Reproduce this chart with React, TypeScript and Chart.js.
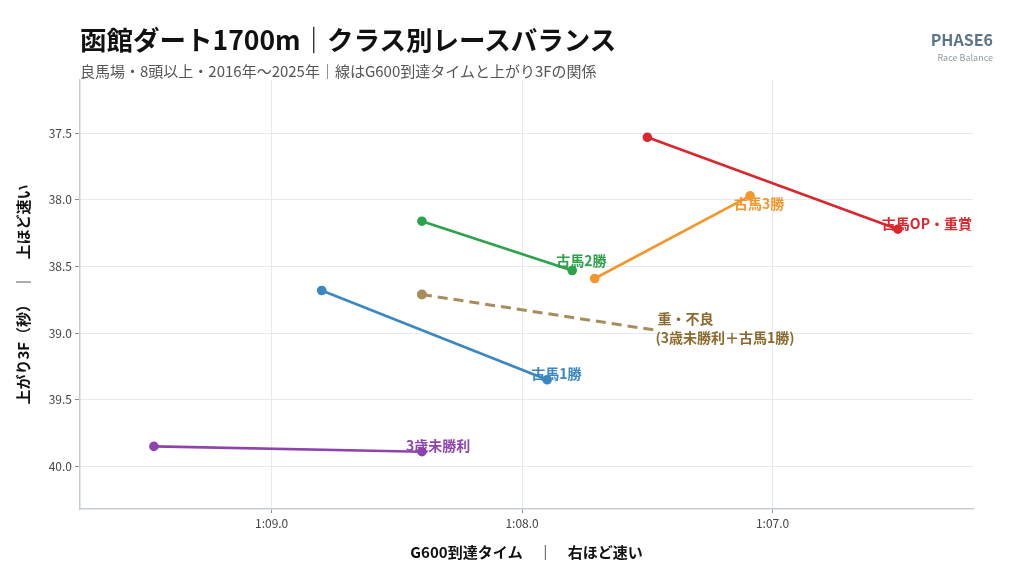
import { Chart, registerables, type ChartConfiguration, type Plugin } from "chart.js";
import { useEffect, useRef } from "react";

Chart.register(...registerables);

const FONT = '"Noto Sans CJK JP", "Noto Sans", sans-serif';

// G600到達タイム（秒）と上がり3F（秒）: [開始点, 終点]
const classNames = ["3歳未勝利", "古馬1勝", "古馬2勝", "古馬3勝", "古馬OP・重賞"];
const classColors = ["#8e44ad", "#3a87c2", "#2ca24a", "#f3962c", "#d9272e"];
const g600Times = [
  [69.47, 68.4],
  [68.8, 67.9],
  [68.4, 67.8],
  [67.71, 67.09],
  [67.5, 66.5],
];
const last3f = [
  [39.85, 39.89],
  [38.68, 39.35],
  [38.16, 38.53],
  [38.59, 37.97],
  [37.53, 38.22],
];
// ラベルの縦ずれ（px）
const labelShift = [-6, -6, -10, 8, -6];

const heavyLabel = ["重・不良", "(3歳未勝利＋古馬1勝)"];
const heavyG600 = [68.4, 67.46];
const heavyLast3f = [38.71, 38.98];

const xTicks = [67, 68, 69];
const yTicks = [37.5, 38, 38.5, 39, 39.5, 40];

function formatTime(v: number) {
  const m = Math.floor(v / 60);
  const s = (v - m * 60).toFixed(1).padStart(4, "0");
  return `${m}:${s}`;
}

const endLabels: Plugin<"line"> = {
  id: "endLabels",
  afterDatasetsDraw(chart) {
    const { ctx } = chart;
    ctx.save();
    ctx.font = `bold 14px ${FONT}`;
    ctx.textBaseline = "middle";
    ctx.textAlign = "left";
    chart.data.datasets.forEach((ds, i) => {
      const meta = chart.getDatasetMeta(i);
      const pt = meta.data[meta.data.length - 1];
      if (!pt) return;
      const label = (ds as any).endLabel as string[];
      ctx.fillStyle = (ds as any).labelColor;
      if (label.length === 1) {
        ctx.fillText(label[0], pt.x - 16, pt.y + (ds as any).labelShift);
      } else {
        ctx.fillText(label[0], pt.x, pt.y - 12);
        ctx.fillText(label[1], pt.x - 2, pt.y + 7);
      }
    });
    ctx.restore();
  },
};

export default function App() {
  const canvasRef = useRef<HTMLCanvasElement>(null);

  useEffect(() => {
    if (!canvasRef.current) return;

    const classSets = classNames.map((name, i) => ({
      label: name,
      endLabel: [name],
      labelShift: labelShift[i],
      labelColor: classColors[i],
      data: g600Times[i].map((x, j) => ({ x, y: last3f[i][j] })),
      borderColor: classColors[i],
      backgroundColor: classColors[i],
      borderWidth: 2.6,
      pointRadius: 3.5,
      pointHoverRadius: 3.5,
    }));

    const heavySet = {
      label: heavyLabel.join(""),
      endLabel: heavyLabel,
      labelColor: "#8b6a2e",
      data: heavyG600.map((x, j) => ({ x, y: heavyLast3f[j] })),
      borderColor: "#a98c5c",
      backgroundColor: "#a98c5c",
      borderWidth: 3,
      borderDash: [10, 6],
      pointRadius: [3.5, 0],
      pointHoverRadius: [3.5, 0],
    };

    const config: ChartConfiguration<"line"> = {
      type: "line",
      data: { datasets: [...classSets, heavySet] as any },
      options: {
        animation: false,
        responsive: false,
        devicePixelRatio: 1,
        layout: { padding: { top: 80, right: 51, left: 0, bottom: 0 } },
        plugins: {
          legend: { display: false },
          tooltip: { enabled: false },
        },
        scales: {
          x: {
            type: "linear",
            reverse: true,
            min: 66.2,
            max: 69.765,
            afterFit: (scale) => {
              scale.height = 71;
            },
            afterBuildTicks: (scale) => {
              scale.ticks = xTicks.map((value) => ({ value }));
            },
            ticks: {
              padding: 3,
              color: "#444",
              font: { family: FONT, size: 12 },
              callback: (v) => formatTime(Number(v)),
            },
            grid: { color: "#e6e9f0", tickColor: "#8a8f98", tickLength: 4 },
            border: { color: "#c6cbd3", width: 1.5 },
            title: {
              display: true,
              text: "G600到達タイム　｜　右ほど速い",
              color: "#111",
              font: { family: FONT, size: 15, weight: "bold" },
              padding: { top: 0, bottom: 19 },
            },
          },
          y: {
            type: "linear",
            reverse: true,
            min: 37.1,
            max: 40.32,
            afterFit: (scale) => {
              scale.width = 80;
            },
            afterBuildTicks: (scale) => {
              scale.ticks = yTicks.map((value) => ({ value }));
            },
            ticks: {
              padding: 3,
              color: "#444",
              font: { family: FONT, size: 12 },
              callback: (v) => Number(v).toFixed(1),
            },
            grid: { color: "#e6e9f0", tickColor: "#8a8f98", tickLength: 5 },
            border: { color: "#c6cbd3", width: 1.5 },
            title: {
              display: true,
              text: "上がり3F（秒）　｜　上ほど速い",
              color: "#111",
              font: { family: FONT, size: 15, weight: "bold" },
              padding: { top: 14, bottom: 0 },
            },
          },
        },
      },
      plugins: [endLabels],
    };

    const chart = new Chart(canvasRef.current, config);
    return () => chart.destroy();
  }, []);

  return (
    <div
      style={{
        position: "fixed",
        left: 0,
        top: 0,
        width: 1024,
        height: 580,
        background: "#fff",
        fontFamily: FONT,
      }}
    >
      <canvas
        ref={canvasRef}
        width={1024}
        height={580}
        style={{ position: "absolute", left: 0, top: 0, width: 1024, height: 580 }}
      />
      <div
        style={{
          position: "absolute",
          left: 80,
          top: 21,
          fontSize: 26.5,
          fontWeight: 700,
          lineHeight: "36px",
          color: "#111",
          whiteSpace: "nowrap",
        }}
      >
        函館ダート1700m｜クラス別レースバランス
      </div>
      <div
        style={{
          position: "absolute",
          left: 80,
          top: 61,
          fontSize: 15,
          lineHeight: "20px",
          color: "#555",
          whiteSpace: "nowrap",
        }}
      >
        良馬場・8頭以上・2016年〜2025年｜線はG600到達タイムと上がり3Fの関係
      </div>
      <div
        style={{
          position: "absolute",
          right: 31,
          top: 29,
          textAlign: "right",
          color: "#5a7588",
          whiteSpace: "nowrap",
        }}
      >
        <div style={{ fontSize: 16, fontWeight: 700, lineHeight: "21px" }}>PHASE6</div>
        <div style={{ fontSize: 9, lineHeight: "12px", color: "#8f9aa4", marginTop: 2 }}>
          Race Balance
        </div>
      </div>
    </div>
  );
}
